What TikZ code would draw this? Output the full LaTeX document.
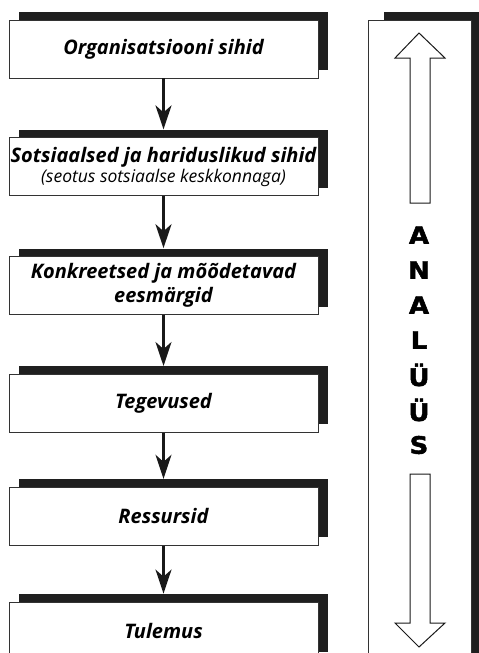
\documentclass[tikz,border=0pt]{standalone}
\usepackage{fontspec}
\setmainfont{Open Sans}
\newfontfamily\blackfont[FakeBold=2,FakeStretch=1.08]{DejaVu Sans Bold}
\usetikzlibrary{positioning, arrows.meta, shadows}
\tikzset{
x=1pt, y=-1pt, % pixel-like units, y runs downwards
>={Stealth[length=24pt,width=16pt,inset=7pt]}, % solid arrow heads
stage/.style={draw=black!80, line width=0.8pt, fill=white,
  minimum width=309pt, minimum height=58pt, inner sep=0pt, align=center,
  font=\fontsize{20}{22}\selectfont\bfseries\itshape,
  general shadow={fill=black!88, shadow xshift=9.5pt, shadow yshift=8pt}}, % the boxes on the left
flow/.style={->, line width=2.5pt, draw=black!90}, % arrows between the boxes
letter/.style={font=\blackfont\fontsize{24}{24}\selectfont}, % letters of the side panel
hollow/.style={draw=black!90, line width=1pt, fill=white, line join=miter}, % outlined block arrows
}
\begin{document}
\begin{tikzpicture}
\path[use as bounding box] (0,0) rectangle (479,653);
\clip (0,0) rectangle (479,653);
% left column
\node[stage] (org) at (163.5,49) {Organisatsiooni sihid};
\node[stage, below=59pt of org] (sots) {Sotsiaalsed ja hariduslikud sihid\\[-2pt]
  {\fontsize{17.5}{19}\selectfont\mdseries(seotus sotsiaalse keskkonnaga)}};
\node[stage, below=60pt of sots, font=\fontsize{20}{24}\selectfont\bfseries\itshape] (eesm) {Konkreetsed ja mõõdetavad\\eesmärgid};
\node[stage, below=59pt of eesm] (teg) {Tegevused};
\node[stage, below=54pt of teg] (res) {Ressursid};
\node[stage, below=56pt of res] (tul) {Tulemus};
\draw[flow] (org.south) -- ([yshift=8pt]sots.north);
\draw[flow] (sots.south) -- ([yshift=8pt]eesm.north);
\draw[flow] (eesm.south) -- ([yshift=8pt]teg.north);
\draw[flow] (teg.south) -- ([yshift=8pt]res.north);
\draw[flow] (res.south) -- ([yshift=8pt]tul.north);
% right panel
\fill[black!88] (384,12) rectangle (479,700);
\node[draw=black!80, line width=0.8pt, fill=white, anchor=north west, inner sep=0pt,
  minimum width=103pt, minimum height=680pt] (panel) at (368,20) {};
\draw[hollow] (419,33) -- (445,58) -- (430,58) -- (430,203) -- (410,203) -- (410,58) -- (395,58) -- cycle;
\draw[hollow] (410,474) -- (430,474) -- (430,623) -- (445,623) -- (419,647) -- (395,623) -- (410,623) -- cycle;
\foreach \ch [count=\i] in {A,N,A,L,Ü,Ü,S}
  \node[letter] (ltr\i) at (419,200+35*\i) {\ch};
\end{tikzpicture}
\end{document}
